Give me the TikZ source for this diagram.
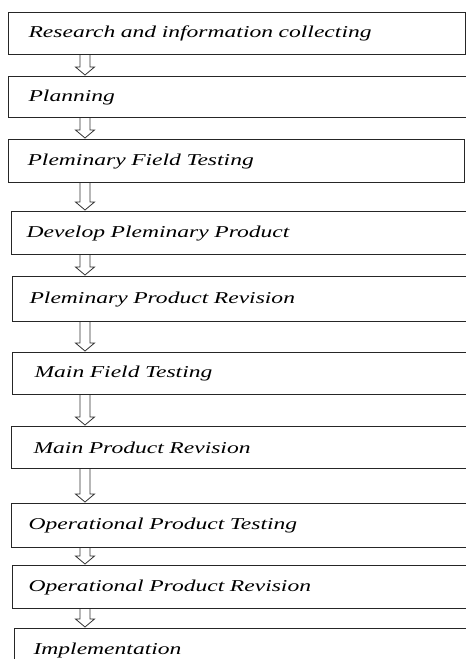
\documentclass[tikz,border=0pt]{standalone}
\usepackage{fontspec}
\setmainfont{Liberation Serif}
\newfontfamily\boxfont{Liberation Serif}[FakeStretch=1.42]
\usetikzlibrary{calc}
\tikzset{
  stepbox/.style={draw=black!85, line width=1.1pt, anchor=north west, inner ysep=0pt,
    align=left, font=\boxfont\itshape\fontsize{16.6}{18}\selectfont},
  arrowline/.style={draw=black!80, line width=0.8pt, line join=miter}
}
\newcommand{\flowbox}[8]{% name, left, top, W, H, offset, textwidth, text
  \node[stepbox, minimum width=#4pt, minimum height=#5pt, inner xsep=#6pt, text width=#7pt] (#1) at (#2,#3) {#8};}
\newcommand{\flowarrow}[2]{%
  \draw[arrowline] let \p1=(#1.south), \p2=(#2.north) in
  (80pt,\y1) -- (80pt,\y2+9pt) -- (75.5pt,\y2+9pt) -- (85pt,\y2+1pt) -- (94.5pt,\y2+9pt) -- (90pt,\y2+9pt) -- (90pt,\y1);}
\begin{document}
\begin{tikzpicture}[x=1pt,y=-1pt]
\useasboundingbox (0,0) rectangle (466,659);
\clip (0,0) rectangle (466,659);
\fill[white] (0,0) rectangle (466,659);
\flowbox{b1}{8}{12}{457}{42}{20}{417}{Research and information collecting}
\flowbox{b2}{8}{76}{480}{41}{20}{440}{Planning}
\flowbox{b3}{8}{139}{456}{43}{19}{418}{Pleminary Field Testing}
\flowbox{b4}{11}{211}{480}{43}{15}{450}{Develop Pleminary Product}
\flowbox{b5}{12}{276}{480}{45}{17}{446}{Pleminary Product Revision}
\flowbox{b6}{12}{352}{480}{42}{22}{436}{Main Field Testing}
\flowbox{b7}{11}{426}{480}{42}{22}{436}{Main Product Revision}
\flowbox{b8}{11}{503}{480}{44}{17}{446}{Operational Product Testing}
\flowbox{b9}{12}{565}{480}{43}{16}{448}{Operational Product Revision}
\flowbox{b10}{14}{628}{480}{43}{19}{442}{Implementation}
\flowarrow{b1}{b2}
\flowarrow{b2}{b3}
\flowarrow{b3}{b4}
\flowarrow{b4}{b5}
\flowarrow{b5}{b6}
\flowarrow{b6}{b7}
\flowarrow{b7}{b8}
\flowarrow{b8}{b9}
\flowarrow{b9}{b10}
\end{tikzpicture}
\end{document}
